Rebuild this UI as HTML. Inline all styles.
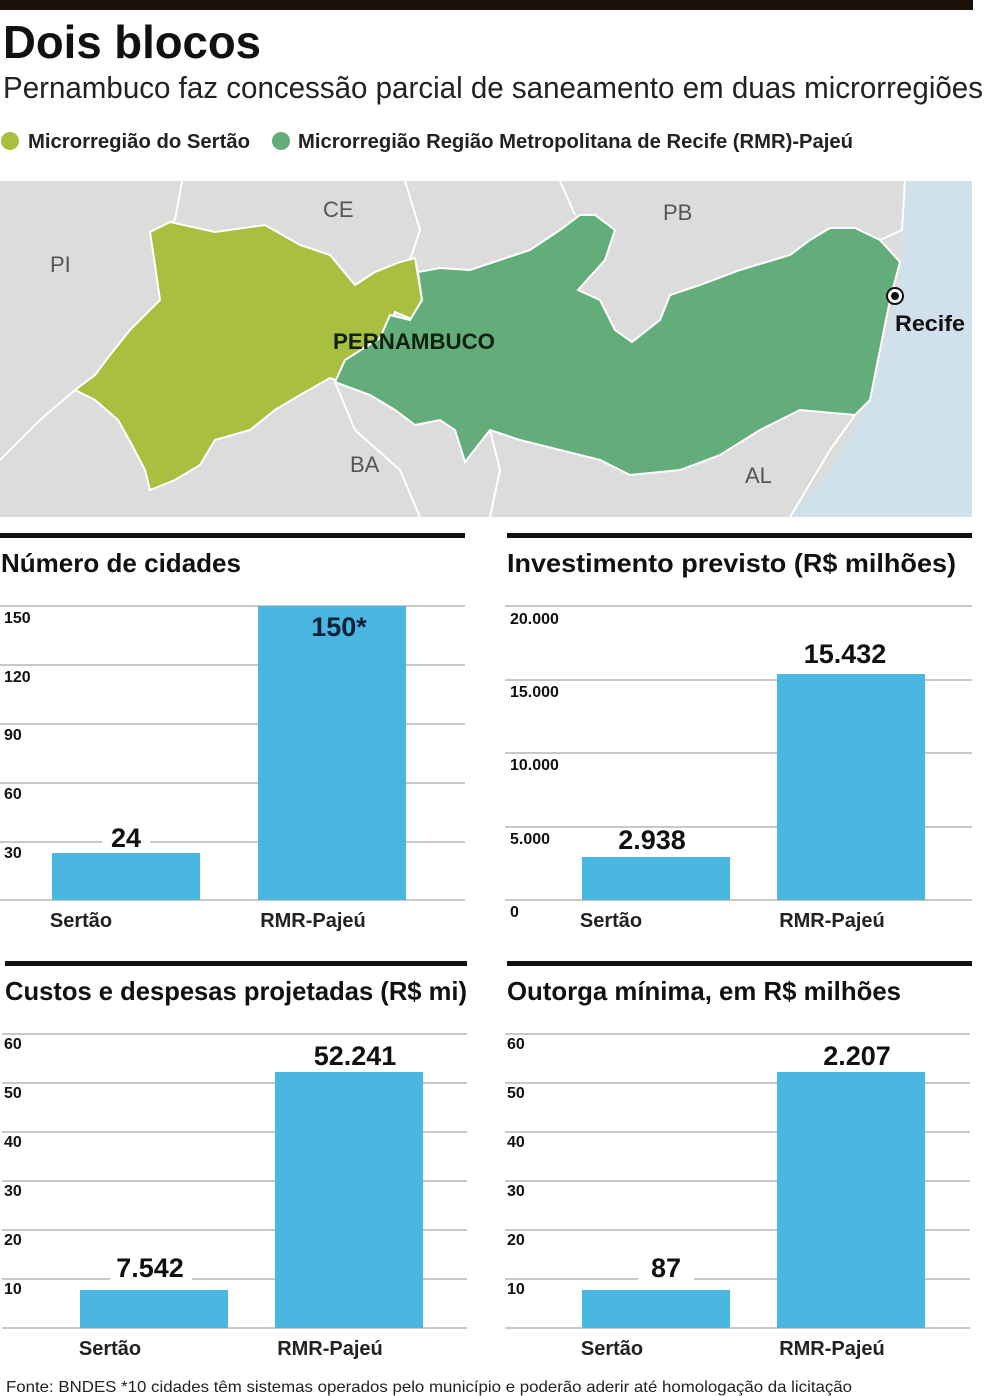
<!DOCTYPE html>
<html><head><meta charset="utf-8"><style>
html,body{margin:0;padding:0;background:#fff;width:984px;height:1396px;overflow:hidden}
text{font-family:"Liberation Sans",sans-serif}
.b{font-weight:bold}
</style></head><body>
<svg width="984" height="1396" viewBox="0 0 984 1396" xmlns="http://www.w3.org/2000/svg">
<rect x="0" y="0" width="973" height="10" fill="#1a1209"/>
<text x="3" y="58" class="b" font-size="46" textLength="258" lengthAdjust="spacingAndGlyphs" fill="#111">Dois blocos</text>
<text x="3" y="98" font-size="31" textLength="980" lengthAdjust="spacingAndGlyphs" fill="#222">Pernambuco faz concessão parcial de saneamento em duas microrregiões</text>
<circle cx="10" cy="141" r="9" fill="#a9bf3f"/>
<text x="28" y="148" class="b" font-size="20" textLength="222" lengthAdjust="spacingAndGlyphs" fill="#222">Microrregião do Sertão</text>
<circle cx="281" cy="141" r="9" fill="#62ad7a"/>
<text x="298" y="148" class="b" font-size="20" textLength="555" lengthAdjust="spacingAndGlyphs" fill="#222">Microrregião Região Metropolitana de Recife (RMR)-Pajeú</text>

<!-- map -->
<rect x="0" y="181" width="972" height="336" fill="#dcdcdc"/>
<path d="M905 181 L972 181 L972 517 L790 517 L830 470 L860 420 L875 380 L888 330 L900 280 L902 230 Z" fill="#d0e1eb"/>
<g fill="none" stroke="#fff" stroke-width="2">
<path d="M182 181 L175 220 L150 232"/>
<path d="M405 181 L420 230 L410 260"/>
<path d="M575 215 L560 181"/>
<path d="M75 390 L40 420 L0 460"/>
<path d="M335 382 L355 430 L400 470 L420 517"/>
<path d="M490 430 L500 470 L490 517"/>
<path d="M855 415 L830 450 L790 517"/>
<path d="M880 240 L902 230 L905 181"/>
</g>
<path fill="#a9bf3f" stroke="#fff" stroke-width="2" d="M150 232 L170 222 L215 232 L265 225 L300 245 L330 255 L355 285 L375 272 L400 262 L415 258 L422 300 L414 320 L395 312 L385 335 L370 350 L350 385 L330 378 L300 395 L275 410 L250 430 L215 440 L200 465 L175 480 L150 490 L145 470 L132 445 L118 420 L95 400 L75 390 L95 375 L110 355 L130 330 L160 300 L155 265 Z"/>
<path fill="#62ad7a" stroke="#fff" stroke-width="2" d="M335 382 L345 360 L380 338 L390 315 L410 320 L422 300 L418 272 L440 268 L470 270 L500 260 L530 250 L560 230 L580 215 L595 215 L615 230 L605 260 L578 290 L600 300 L615 330 L632 342 L660 320 L670 295 L700 285 L740 270 L790 255 L810 240 L830 228 L855 228 L880 240 L900 262 L890 300 L880 350 L870 400 L855 415 L800 410 L760 430 L720 455 L680 470 L630 475 L600 460 L560 450 L520 440 L490 430 L465 462 L455 430 L440 420 L415 425 L395 410 L370 395 Z"/>
<g fill="#555" font-size="22">
<text x="50" y="272">PI</text><text x="323" y="217">CE</text><text x="663" y="220">PB</text>
<text x="350" y="472">BA</text><text x="745" y="483">AL</text></g>
<text x="333" y="349" class="b" font-size="22" textLength="162" lengthAdjust="spacingAndGlyphs" fill="#10220f">PERNAMBUCO</text>
<circle cx="895" cy="296" r="8" fill="#fff" stroke="#111" stroke-width="2"/><circle cx="895" cy="296" r="4" fill="#111"/>
<text x="895" y="331" class="b" font-size="22" textLength="70" lengthAdjust="spacingAndGlyphs" fill="#111">Recife</text>

<!-- chart 1 -->
<rect x="0" y="533" width="465" height="5" fill="#111"/>
<text x="1" y="572" class="b" font-size="26" textLength="240" lengthAdjust="spacingAndGlyphs" fill="#111">Número de cidades</text>
<g stroke="#b5b5b5" stroke-width="1.5"><line x1="0" x2="465" y1="606" y2="606"/><line x1="0" x2="465" y1="665" y2="665"/><line x1="0" x2="465" y1="724" y2="724"/><line x1="0" x2="465" y1="783" y2="783"/><line x1="0" x2="465" y1="842" y2="842"/><line x1="0" x2="465" y1="900" y2="900"/></g>
<g class="b" font-size="16" fill="#111" font-weight="bold"><text x="4" y="623">150</text><text x="4" y="682">120</text><text x="4" y="740">90</text><text x="4" y="799">60</text><text x="4" y="858">30</text></g>
<rect x="102" y="822" width="48" height="30" fill="#fff"/>
<rect x="52" y="853" width="148" height="47" fill="#4ab7e0"/>
<rect x="258" y="606" width="148" height="294" fill="#4ab7e0"/>
<text x="126" y="847" text-anchor="middle" class="b" font-size="27" fill="#111">24</text>
<text x="339" y="636" text-anchor="middle" class="b" font-size="27" fill="#0e1f3a">150*</text>
<text x="81" y="927" text-anchor="middle" class="b" font-size="20" fill="#222">Sertão</text>
<text x="313" y="927" text-anchor="middle" class="b" font-size="20" fill="#222">RMR-Pajeú</text>

<!-- chart 2 -->
<rect x="507" y="533" width="465" height="5" fill="#111"/>
<text x="507" y="572" class="b" font-size="26" textLength="449" lengthAdjust="spacingAndGlyphs" fill="#111">Investimento previsto (R$ milhões)</text>
<g stroke="#b5b5b5" stroke-width="1.5"><line x1="505" x2="972" y1="606" y2="606"/><line x1="505" x2="972" y1="680" y2="680"/><line x1="505" x2="972" y1="753" y2="753"/><line x1="505" x2="972" y1="827" y2="827"/><line x1="505" x2="972" y1="900" y2="900"/></g>
<g font-size="16" fill="#111" font-weight="bold"><text x="510" y="624">20.000</text><text x="510" y="697">15.000</text><text x="510" y="770">10.000</text><text x="510" y="844">5.000</text><text x="510" y="917">0</text></g>
<rect x="582" y="857" width="148" height="43" fill="#4ab7e0"/>
<rect x="777" y="674" width="148" height="226" fill="#4ab7e0"/>
<text x="652" y="849" text-anchor="middle" class="b" font-size="27" fill="#111">2.938</text>
<text x="845" y="663" text-anchor="middle" class="b" font-size="27" fill="#111">15.432</text>
<text x="611" y="927" text-anchor="middle" class="b" font-size="20" fill="#222">Sertão</text>
<text x="832" y="927" text-anchor="middle" class="b" font-size="20" fill="#222">RMR-Pajeú</text>

<!-- chart 3 -->
<rect x="5" y="961" width="462" height="5" fill="#111"/>
<text x="5" y="1000" class="b" font-size="26" textLength="462" lengthAdjust="spacingAndGlyphs" fill="#111">Custos e despesas projetadas (R$ mi)</text>
<g stroke="#b5b5b5" stroke-width="1.5"><line x1="2" x2="467" y1="1034" y2="1034"/><line x1="2" x2="467" y1="1083" y2="1083"/><line x1="2" x2="467" y1="1132" y2="1132"/><line x1="2" x2="467" y1="1181" y2="1181"/><line x1="2" x2="467" y1="1230" y2="1230"/><line x1="2" x2="467" y1="1279" y2="1279"/><line x1="2" x2="467" y1="1328" y2="1328"/></g>
<g font-size="16" fill="#111" font-weight="bold"><text x="4" y="1049">60</text><text x="4" y="1098">50</text><text x="4" y="1147">40</text><text x="4" y="1196">30</text><text x="4" y="1245">20</text><text x="4" y="1294">10</text></g>
<rect x="110" y="1256" width="82" height="30" fill="#fff"/>
<rect x="80" y="1290" width="148" height="38" fill="#4ab7e0"/>
<rect x="275" y="1072" width="148" height="256" fill="#4ab7e0"/>
<text x="150" y="1277" text-anchor="middle" class="b" font-size="27" fill="#111">7.542</text>
<text x="355" y="1065" text-anchor="middle" class="b" font-size="27" fill="#111">52.241</text>
<text x="110" y="1355" text-anchor="middle" class="b" font-size="20" fill="#222">Sertão</text>
<text x="330" y="1355" text-anchor="middle" class="b" font-size="20" fill="#222">RMR-Pajeú</text>

<!-- chart 4 -->
<rect x="507" y="961" width="465" height="5" fill="#111"/>
<text x="507" y="1000" class="b" font-size="26" textLength="394" lengthAdjust="spacingAndGlyphs" fill="#111">Outorga mínima, em R$ milhões</text>
<g stroke="#b5b5b5" stroke-width="1.5"><line x1="505" x2="970" y1="1034" y2="1034"/><line x1="505" x2="970" y1="1083" y2="1083"/><line x1="505" x2="970" y1="1132" y2="1132"/><line x1="505" x2="970" y1="1181" y2="1181"/><line x1="505" x2="970" y1="1230" y2="1230"/><line x1="505" x2="970" y1="1279" y2="1279"/><line x1="505" x2="970" y1="1328" y2="1328"/></g>
<g font-size="16" fill="#111" font-weight="bold"><text x="507" y="1049">60</text><text x="507" y="1098">50</text><text x="507" y="1147">40</text><text x="507" y="1196">30</text><text x="507" y="1245">20</text><text x="507" y="1294">10</text></g>
<rect x="638" y="1256" width="56" height="30" fill="#fff"/>
<rect x="582" y="1290" width="148" height="38" fill="#4ab7e0"/>
<rect x="777" y="1072" width="148" height="256" fill="#4ab7e0"/>
<text x="666" y="1277" text-anchor="middle" class="b" font-size="27" fill="#111">87</text>
<text x="857" y="1065" text-anchor="middle" class="b" font-size="27" fill="#111">2.207</text>
<text x="612" y="1355" text-anchor="middle" class="b" font-size="20" fill="#222">Sertão</text>
<text x="832" y="1355" text-anchor="middle" class="b" font-size="20" fill="#222">RMR-Pajeú</text>

<text x="6" y="1392" font-size="16" textLength="846" lengthAdjust="spacingAndGlyphs" fill="#222">Fonte: BNDES *10 cidades têm sistemas operados pelo município e poderão aderir até homologação da licitação</text>
</svg>
</body></html>
